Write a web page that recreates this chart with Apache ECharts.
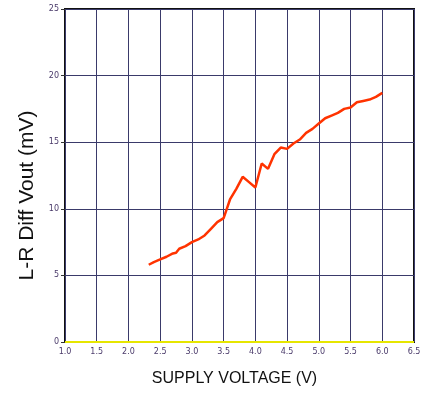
<!DOCTYPE html>
<html>
<head>
<meta charset="utf-8">
<script src="https://cdn.jsdelivr.net/npm/echarts@6/dist/echarts.min.js"></script>
<style>
  html, body { margin: 0; padding: 0; background: #fff; }
  #box { width: 427px; height: 394px; }
</style>
</head>
<body>
<div id="box"></div>
<script>
// supply voltage (V) and L-R diff output (mV)
var voltage = [2.32, 2.4, 2.5, 2.6, 2.7, 2.75, 2.8, 2.9, 3.0, 3.1, 3.2, 3.3, 3.4, 3.5, 3.55, 3.6, 3.7, 3.8, 3.9, 4.0,
               4.1, 4.2, 4.3, 4.4, 4.5, 4.6, 4.7, 4.8, 4.9, 5.0, 5.1, 5.2, 5.3, 5.4, 5.5, 5.6, 5.7, 5.8, 5.9, 6.0];
var diffVout = [5.8, 6.0, 6.2, 6.4, 6.65, 6.7, 7.0, 7.2, 7.5, 7.7, 8.0, 8.5, 9.0, 9.3, 10.0, 10.7, 11.5, 12.4, 12.0, 11.6,
                13.4, 13.0, 14.1, 14.6, 14.5, 14.9, 15.2, 15.7, 16.0, 16.4, 16.8, 17.0, 17.2, 17.5, 17.6, 18.0, 18.1, 18.2, 18.4, 18.7];
// zero reference line
var zeroX = [1.0, 6.5];
var zeroY = [0, 0];

var dom = document.getElementById("box");
var myChart = echarts.init(dom);

var lineData = voltage.map(function (v, i) { return [v, diffVout[i]]; });
var zeroData = zeroX.map(function (v, i) { return [v, zeroY[i]]; });

var gridColor = '#3a3a6a';
var tickFont = { fontFamily: 'DejaVu Sans', fontSize: 8, color: '#4a3a6a' };

var option = {
    animation: false,
    grid: {
        left: 65, right: 13, top: 9, bottom: 52,
        show: true,
        borderColor: '#111',
        borderWidth: 2
    },
    xAxis: {
        type: 'value',
        min: 1.0, max: 6.5, interval: 0.5,
        name: 'SUPPLY VOLTAGE (V)',
        nameLocation: 'middle',
        nameGap: 29,
        nameTextStyle: { fontFamily: 'Liberation Sans', fontSize: 16, color: '#111', padding: [0, 10, 0, 0] },
        axisLine: { show: false },
        axisTick: { show: false },
        axisLabel: {
            margin: 6,
            fontFamily: tickFont.fontFamily, fontSize: tickFont.fontSize, color: tickFont.color,
            formatter: function (v) { return v.toFixed(1); }
        },
        splitLine: { show: true, lineStyle: { color: gridColor, width: 1 } }
    },
    yAxis: {
        type: 'value',
        min: 0, max: 25, interval: 5,
        name: 'L-R Diff Vout (mV)',
        nameLocation: 'middle',
        nameGap: 26,
        nameTextStyle: { fontFamily: 'Liberation Sans', fontSize: 21, color: '#111', padding: [0, 0, 0, -40] },
        axisLine: { show: false },
        axisTick: { show: true, length: 4, inside: false, lineStyle: { color: '#333' } },
        axisLabel: {
            margin: 6,
            fontFamily: tickFont.fontFamily, fontSize: tickFont.fontSize, color: tickFont.color
        },
        splitLine: { show: true, lineStyle: { color: gridColor, width: 1 } }
    },
    series: [
        {
            name: 'zero',
            type: 'line',
            data: zeroData,
            symbol: 'none',
            lineStyle: { color: '#e6e600', width: 2 },
            z: 3
        },
        {
            name: 'L-R Diff Vout',
            type: 'line',
            data: lineData,
            symbol: 'none',
            lineStyle: { color: '#ff3300', width: 2.5 },
            z: 4
        }
    ]
};

if (option && typeof option === "object") {
    myChart.setOption(option, true);
}
</script>
</body>
</html>
